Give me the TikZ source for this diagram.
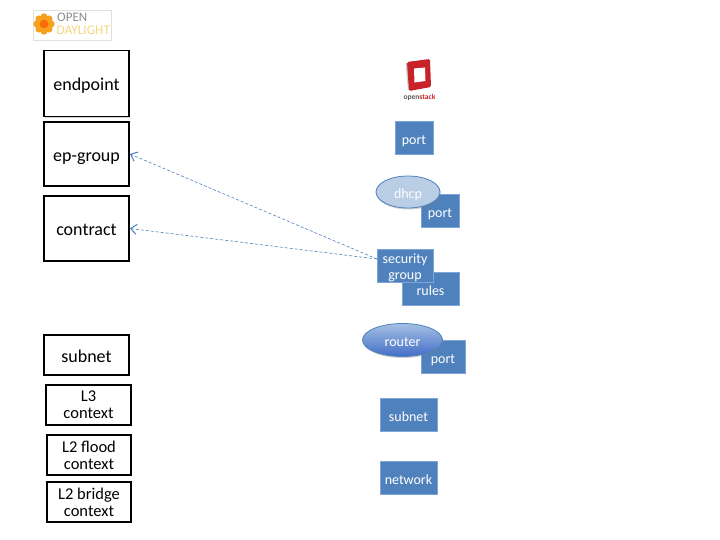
\documentclass[tikz,border=0pt]{standalone}
\usepackage{xcolor}
\usepackage{fontspec}
\setmainfont{Carlito}
\usetikzlibrary{shapes.geometric, arrows.meta, shadows}
\definecolor{boxblue}{RGB}{79, 129, 189}
\definecolor{edgeblue}{RGB}{125, 165, 215}
\definecolor{dhcpblue}{RGB}{185, 205, 229}
\definecolor{odorange}{RGB}{247, 160, 30}
\definecolor{odyellow}{RGB}{245, 215, 130}
\definecolor{osred}{RGB}{200, 35, 40}

\begin{document}
\begin{tikzpicture}[x=1pt, y=-1pt,
    gbpbox/.style={rectangle, draw=black, line width=1.8pt, fill=white,
                minimum width=85pt, align=center, inner sep=0pt,
                drop shadow={opacity=0.35, shadow xshift=0.8pt, shadow yshift=-1.2pt}},
    gbptext/.style={font=\fontsize{18}{20}\selectfont, text height=14.5pt, text depth=0pt},
    gbpsmall/.style={font=\fontsize{16.5}{17}\selectfont},
    osbox/.style={rectangle, draw=edgeblue, line width=0.4pt, fill=boxblue, text=white,
                align=center, inner sep=0pt, font=\fontsize{14}{16}\selectfont},
    osline/.style={text height=13.6pt, text depth=0pt},
    oscloud/.style={ellipse, draw=boxblue, line width=0.8pt, text=white, inner sep=0pt,
                font=\fontsize{14}{16}\selectfont, osline,
                drop shadow={opacity=0.35, shadow xshift=0.6pt, shadow yshift=-1.5pt}},
    maplink/.style={draw=boxblue, densely dashed, line width=0.6pt,
                -{Straight Barb[length=6pt, width=10pt, line width=1pt]}}]
    \useasboundingbox (0, 0) rectangle (720, 540);
    \fill[white] (0, 0) rectangle (720, 540);

    % OpenDaylight logo
    \node[draw=black!12, line width=0.5pt, minimum width=78pt, minimum height=30pt, inner sep=0pt] (odlogo) at (72, 25) {};
    \foreach \a in {0, 45, ..., 315}
        \fill[odorange] (44, 24) ++(\a:7.2) circle (3.5);
    \fill[orange!85!red] (44, 24) circle (4.5);
    \node[anchor=west, text=black!45, inner sep=0pt, font=\fontsize{13}{14}\selectfont] (odopen) at (57, 17.5) {OPEN};
    \node[anchor=west, text=odyellow, inner sep=0pt, font=\fontsize{13.3}{14}\selectfont] (oddaylight) at (56.5, 30) {DAYLIGHT};

    % Left column
    \node[gbpbox, gbptext, minimum height=66pt] (endpoint) at (86.5, 83.5) {endpoint};
    \node[gbpbox, gbptext, minimum height=64pt] (epgroup) at (86.5, 154) {ep-group};
    \node[gbpbox, gbptext, minimum height=65pt] (contract) at (86.5, 228.5) {contract};
    \node[gbpbox, gbptext, minimum height=40pt] (gbpsubnet) at (86.5, 355) {subnet};
    \node[gbpbox, gbpsmall, minimum height=40pt] (lthree) at (88.5, 405) {L3\\context};
    \node[gbpbox, gbpsmall, minimum height=40pt, minimum width=84pt] (lflood) at (89, 455) {L2 flood\\context};
    \node[gbpbox, gbpsmall, minimum height=40pt, minimum width=84pt] (lbridge) at (89, 502) {L2 bridge\\context};

    % OpenStack logo
    \fill[black!20] (405.5, 63) -- (408, 90) -- (412, 91) -- (410, 63) -- cycle;
    \fill[osred, rounded corners=1.5pt] (407, 62) -- (430, 59) -- (431, 87) -- (409, 91) -- cycle;
    \fill[white] (414, 68.5) -- (425, 67.5) -- (425.5, 81) -- (414.5, 82.5) -- cycle;
    \node[inner sep=0pt, font=\bfseries\fontsize{7.5}{8}\selectfont] (oslabel) at (419.5, 97) {\textcolor{black!65}{open}\textcolor{osred}{stack}};

    % Right column
    \node[osbox, osline, minimum width=38pt, minimum height=33pt] (port) at (414, 137.5) {port};
    \node[osbox, osline, minimum width=38pt, minimum height=33pt] (dhcpport) at (440, 210.5) {port};
    \node[oscloud, fill=dhcpblue, minimum width=64pt, minimum height=32pt] (dhcp) at (408, 192) {dhcp};
    \node[osbox, osline, minimum width=57pt, minimum height=33pt] (rules) at (430.5, 288.5) {rules};
    \node[osbox, minimum width=56pt, minimum height=33pt] (secgroup) at (405, 265.5) {\rule{0pt}{15pt}security\\group};
    \node[osbox, osline, minimum width=44pt, minimum height=33pt] (routerport) at (443, 356.5) {port};
    \node[oscloud, top color=edgeblue!70!white, bottom color=boxblue!85!blue, minimum width=80pt, minimum height=33pt] (router) at (402.5, 340) {router};
    \node[osbox, osline, minimum width=57pt, minimum height=33pt] (ossubnet) at (408.5, 414.5) {subnet};
    \node[osbox, osline, minimum width=57pt, minimum height=33pt] (network) at (408.5, 477.5) {network};

    % Mappings
    \coordinate (sgtap) at (377, 259);
    \draw[maplink] (sgtap) -- (epgroup.east);
    \draw[maplink] (sgtap) -- (contract.east);
\end{tikzpicture}
\end{document}
